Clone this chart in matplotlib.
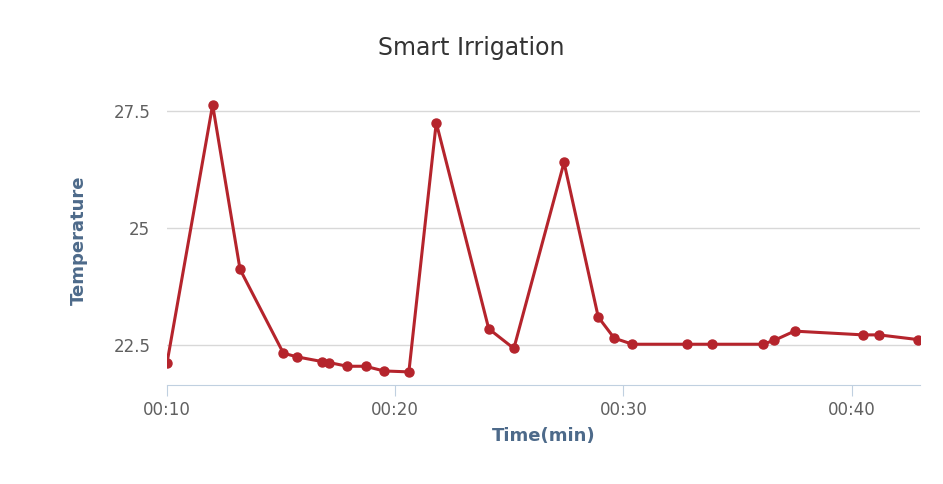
import matplotlib.pyplot as plt
from matplotlib.ticker import FuncFormatter

# minutes past 00:00, temperature
minutes = [10.0, 12.0, 13.2, 15.1, 15.7, 16.8, 17.1, 17.9, 18.7, 19.5, 20.6,
           21.8, 24.1, 25.2, 27.4, 28.9, 29.6, 30.4, 32.8, 33.9, 36.1, 36.6,
           37.5, 40.5, 41.2, 42.9]
temps = [22.12, 27.63, 24.12, 22.33, 22.25, 22.15, 22.13, 22.05, 22.05, 21.95, 21.93,
         27.25, 22.85, 22.43, 26.4, 23.1, 22.65, 22.52, 22.52, 22.52, 22.52, 22.6,
         22.8, 22.72, 22.72, 22.62]
yticks = [22.5, 25, 27.5]
xticks = [10, 20, 30, 40]

fig = plt.figure(figsize=(9.43, 4.84), dpi=100)
ax = fig.add_axes([167/943, 1-385/484, (920-167)/943, (385-95)/484])
ax.plot(minutes, temps, color='#b5242c', lw=2.2, marker='o', ms=6.5, zorder=3)
ax.set_xlim(10, 43.0)
ax.set_ylim(21.65, 27.84)
ax.set_yticks(yticks)
ax.set_yticklabels(['22.5', '25', '27.5'])
ax.set_xticks(xticks)
ax.xaxis.set_major_formatter(FuncFormatter(lambda v, p: f"00:{int(v):02d}"))
ax.grid(axis='y', color='#d8d8d8', lw=1)
for s in ['top', 'right', 'left']:
    ax.spines[s].set_visible(False)
ax.spines['bottom'].set_color('#c0d0e0')
ax.tick_params(axis='y', length=0, labelsize=12, colors='#606060', pad=12)
ax.tick_params(axis='x', length=8, color='#c0d0e0', labelsize=12, colors='#606060')
ax.set_ylabel('Temperature', fontsize=13, fontweight='bold', color='#4d6a8a', labelpad=18)
ax.set_xlabel('Time(min)', fontsize=13, fontweight='bold', color='#4d6a8a', labelpad=6)
fig.text(0.5, 1-48/484, 'Smart Irrigation', ha='center', va='center', fontsize=17, color='#333333')
fig.savefig('out.png', dpi=100)
